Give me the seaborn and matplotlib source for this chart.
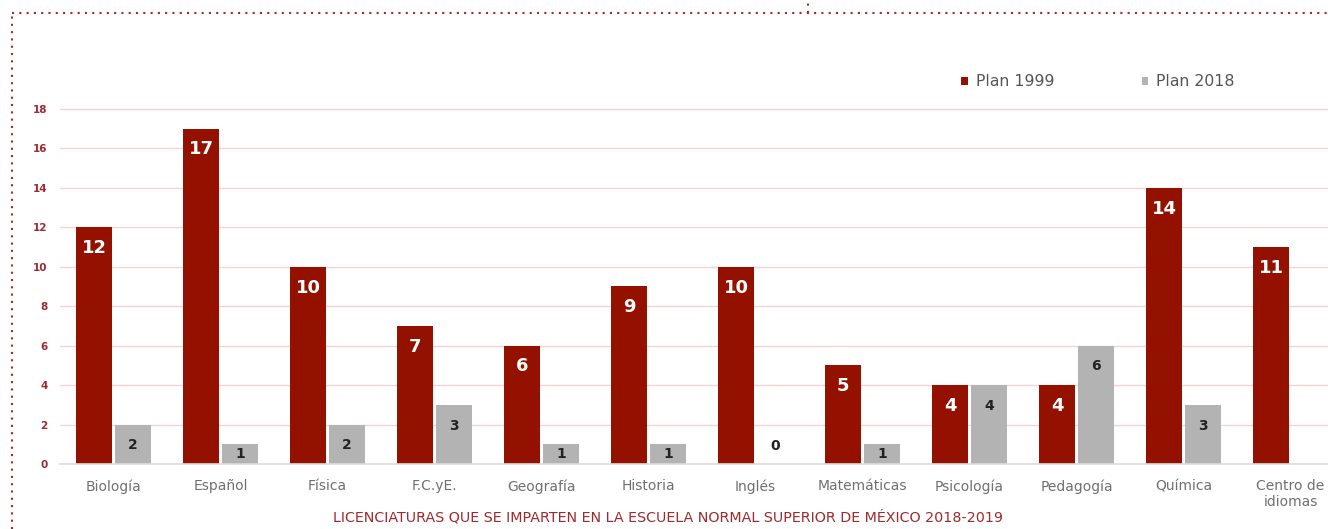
import pandas as pd
import seaborn as sns
import matplotlib.pyplot as plt
from matplotlib.lines import Line2D

# Chart data
categories = ["Biología", "Español", "Física", "F.C.yE.", "Geografía", "Historia",
              "Inglés", "Matemáticas", "Psicología", "Pedagogía", "Química", "Centro de\nidiomas"]
plan1999 = [12, 17, 10, 7, 6, 9, 10, 5, 4, 4, 14, 11]
plan2018 = [2, 1, 2, 3, 1, 1, 0, 1, 4, 6, 3, None]
seriesNames = ["Plan 1999", "Plan 2018"]
yTicks = [0, 2, 4, 6, 8, 10, 12, 14, 16, 18]
caption = "LICENCIATURAS QUE SE IMPARTEN EN LA ESCUELA NORMAL SUPERIOR DE MÉXICO 2018-2019"

redColor = "#941100"
grayColor = "#b3b3b3"
maroon = "#9e2a2f"

dataFrame = pd.DataFrame({
    "categoria": categories * 2,
    "plan": [seriesNames[0]] * len(categories) + [seriesNames[1]] * len(categories),
    "valor": plan1999 + plan2018,
})

sns.set_theme(style="white")
plt.rcParams["font.family"] = ["DejaVu Sans"]

fig = plt.figure(figsize=(13.28, 5.29), dpi=100)
ax = fig.add_axes([60 / 1328, 1 - 464 / 529, 1 - 60 / 1328, (464 - 103) / 529])

sns.barplot(data=dataFrame, x="categoria", y="valor", hue="plan",
            palette=[redColor, grayColor], width=0.73, gap=0.09,
            saturation=1, ax=ax, legend=True, edgecolor="none")

ax.set_xlim(-0.5, 11.35)
ax.set_ylim(0, 18.3)
ax.set_yticks(yTicks)
ax.set_yticklabels([str(t) for t in yTicks], color=maroon, fontsize=7.5, fontweight="bold")
ax.tick_params(axis="y", length=0, pad=9)
ax.tick_params(axis="x", length=0, pad=11, labelsize=10, labelcolor="#707070")
ax.set_xlabel("")
ax.set_ylabel("")
ax.grid(axis="y", color="#f6d3d3", linewidth=1.0)
ax.set_axisbelow(True)
for side in ["top", "right", "left"]:
    ax.spines[side].set_visible(False)
ax.spines["bottom"].set_color("#dddddd")
ax.spines["bottom"].set_linewidth(1.2)

# Value labels
for container, textColor, fontSize in zip(ax.containers, ["white", "#222222"], [13, 10]):
    for patch in container:
        height = patch.get_height()
        if pd.isna(height):
            continue
        xCenter = patch.get_x() + patch.get_width() / 2
        if height == 0:
            offset = 13
        elif height <= 1:
            offset = -7
        else:
            offset = -15
        ax.annotate(f"{int(height)}", (xCenter, height), xytext=(0, offset),
                    textcoords="offset points", ha="center", va="center",
                    color=textColor, fontsize=fontSize, fontweight="bold")

# Legend
sns.move_legend(ax, "center", bbox_to_anchor=(1098 / 1328, 1 - 82 / 529),
                bbox_transform=fig.transFigure, ncol=2, frameon=False, title=None,
                handlelength=0.4, handleheight=0.4, handletextpad=0.5,
                columnspacing=5.6, fontsize=11.3, labelcolor="#555555")

# Caption
fig.text(668 / 1328, 1 - 517 / 529, caption, ha="center", va="center",
         color=maroon, fontsize=10.3)

# Dotted frame
dotStyle = dict(transform=fig.transFigure, color=maroon, linestyle=(0, (1, 2.5)), linewidth=1.5)
fig.add_artist(Line2D([12 / 1328, 1], [1 - 13 / 529, 1 - 13 / 529], **dotStyle))
fig.add_artist(Line2D([12 / 1328, 12 / 1328], [0, 1 - 13 / 529], **dotStyle))
fig.add_artist(Line2D([808 / 1328, 808 / 1328], [1 - 13 / 529, 1], **dotStyle))

plt.savefig("out.png", dpi=100)
plt.close()
